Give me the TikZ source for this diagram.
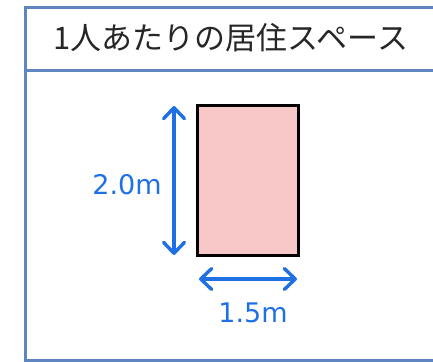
\documentclass[tikz,border=0pt]{standalone}
\usepackage{fontspec}
\setmainfont{DejaVu Sans}
\newfontfamily\jpfont{Noto Sans CJK JP}
\newfontfamily\labfont{DejaVu Sans}
\usetikzlibrary{arrows.meta}
\definecolor{framec}{HTML}{5F86C0}
\definecolor{dimblue}{HTML}{1F6FE5}
\definecolor{roomfill}{HTML}{F8C8C8}
\tikzset{
  framepen/.style={draw=framec, line width=3pt},
  dimarrow/.style={draw=dimblue, line width=3.4pt, line cap=round,
    {Straight Barb[length=11pt,width=21pt,line width=3.4pt,round]}-{Straight Barb[length=11pt,width=21pt,line width=3.4pt,round]}},
  dimlabel/.style={text=dimblue, font=\labfont\fontsize{27}{30}\selectfont, inner sep=0pt},
  room/.style={draw=black, line width=3pt, fill=roomfill, inner sep=0pt}
}
\begin{document}
\begin{tikzpicture}[x=1pt,y=-1pt]
\useasboundingbox (0,0) rectangle (433,361);
\begin{scope}
\clip (0,0) rectangle (433,361);
\draw[framepen] (440,8) -- (25,8) -- (25,360) -- (440,360);
\draw[framepen] (25,70) -- (440,70);
\end{scope}
\node[font=\jpfont\fontsize{31}{34}\selectfont, text=black!85, inner sep=0pt] (title) at (231,38) {1人あたりの居住スペース};
\node[room, minimum width=101pt, minimum height=150pt] (rect) at (247.5,180) {};
\coordinate (vtop) at (174,106);
\coordinate (vbot) at (174,255);
\coordinate (hl) at (199,279);
\coordinate (hr) at (297,279);
\draw[dimarrow] (vtop) -- (vbot);
\draw[dimarrow] (hl) -- (hr);
\node[dimlabel] (h) at (127,185) {2.0m};
\node[dimlabel] (w) at (253,313) {1.5m};
\end{tikzpicture}
\end{document}
